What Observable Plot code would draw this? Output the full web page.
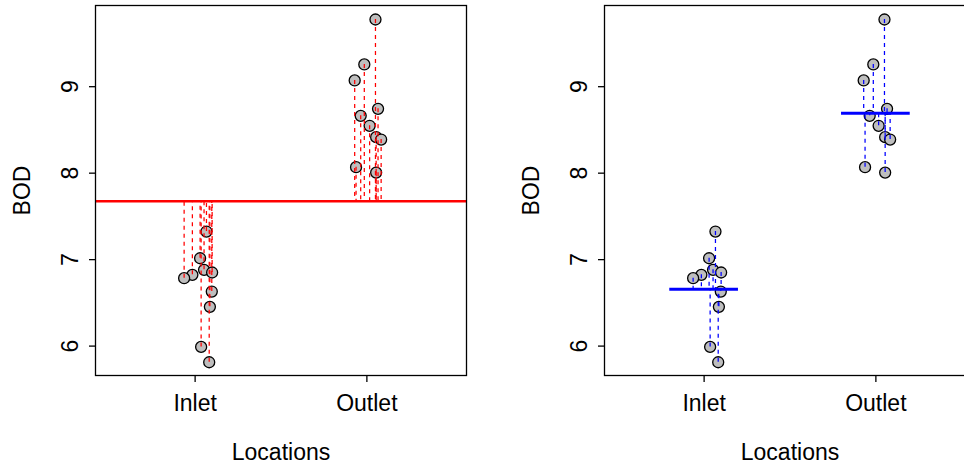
<!DOCTYPE html>
<html>
<head>
<meta charset="utf-8">
<script src="https://cdn.jsdelivr.net/npm/d3@7"></script>
<script src="https://cdn.jsdelivr.net/npm/@observablehq/plot@0.6"></script>
<style>
  html, body { margin: 0; padding: 0; background: #fff; overflow: hidden; }
  #wrap { display: flex; width: 1018px; }
  #wrap svg { display: block; flex-shrink: 0; }
</style>
</head>
<body>
<div id="wrap"></div>
<script>
// ---- data ----
const locations = ["Inlet", "Outlet"];
const inletBOD    = [7.325, 7.016, 6.882, 6.851, 6.824, 6.785, 6.631, 6.454, 5.991, 5.813];
const inletJitter = [1.066, 1.029, 1.052, 1.099, 0.984, 0.936, 1.097, 1.086, 1.035, 1.082];
const outletBOD    = [9.777, 9.257, 9.072, 8.744, 8.663, 8.548, 8.416, 8.389, 8.069, 8.007];
const outletJitter = [2.050, 1.985, 1.929, 2.065, 1.964, 2.016, 2.054, 2.083, 1.937, 2.054];
const yTicks = [6, 7, 8, 9];
const xLabel = "Locations";
const yLabel = "BOD";

// ---- derived table ----
const rows = [
  ...inletBOD.map((v, i) => ({loc: 1, x: inletJitter[i], bod: v})),
  ...outletBOD.map((v, i) => ({loc: 2, x: outletJitter[i], bod: v}))
];
const grandMean = d3.mean(rows, d => d.bod);
const groupMeans = [1, 2].map(g => ({loc: g, mean: d3.mean(rows.filter(d => d.loc === g), d => d.bod)}));
rows.forEach(d => { d.gm = groupMeans[d.loc - 1].mean; });

const FONT = "'Liberation Sans', Arial, Helvetica, sans-serif";
const FS = 23;

function panel(kind) {
  const color = kind === "grand" ? "red" : "blue";
  const meanMarks = kind === "grand"
    ? [Plot.ruleY([grandMean], {stroke: "red", strokeWidth: 2.5})]
    : [Plot.ruleY(groupMeans, {y: "mean", x1: d => d.loc - 0.2, x2: d => d.loc + 0.2, stroke: "blue", strokeWidth: 3})];
  const resid = Plot.ruleX(rows, {
    x: "x", y1: "bod", y2: kind === "grand" ? () => grandMean : "gm",
    stroke: color, strokeWidth: 1.25, strokeDasharray: "4,4"
  });
  return Plot.plot({
    width: 509, height: 466,
    marginLeft: 95, marginRight: 43, marginTop: 5, marginBottom: 91,
    style: {fontFamily: FONT, fontSize: FS + "px", color: "black", background: "white", overflow: "visible"},
    x: {domain: [0.42, 2.58], axis: null},
    y: {domain: [5.66, 9.939], axis: null},
    marks: [
      Plot.dot(rows, {x: "x", y: "bod", r: 5.5, fill: "#bebebe", stroke: "black", strokeWidth: 1.3}),
      ...meanMarks,
      resid,
      Plot.frame({stroke: "black", strokeWidth: 1.3}),
      Plot.axisX({ticks: [1, 2], tickSize: 7, tickPadding: 12, tickFormat: d => locations[d - 1],
                  fontSize: FS, label: null, stroke: "black", strokeWidth: 1.3}),
      Plot.axisY({ticks: yTicks, tickSize: 6, tickFormat: () => "", label: null, stroke: "black", strokeWidth: 1.3}),
      Plot.text(yTicks, {y: d => d, text: d => String(d), frameAnchor: "left", dx: -25, rotate: -90,
                         textAnchor: "middle", lineAnchor: "middle", fontSize: FS, fill: "black"}),
      Plot.text([xLabel], {text: d => d, frameAnchor: "bottom", dy: 77, lineAnchor: "middle", fontSize: FS, fill: "black"}),
      Plot.text([yLabel], {text: d => d, frameAnchor: "left", dx: -73, rotate: -90,
                           textAnchor: "middle", lineAnchor: "middle", fontSize: FS, fill: "black"})
    ]
  });
}

const wrap = document.getElementById("wrap");
wrap.appendChild(panel("grand"));
wrap.appendChild(panel("group"));
</script>
</body>
</html>
